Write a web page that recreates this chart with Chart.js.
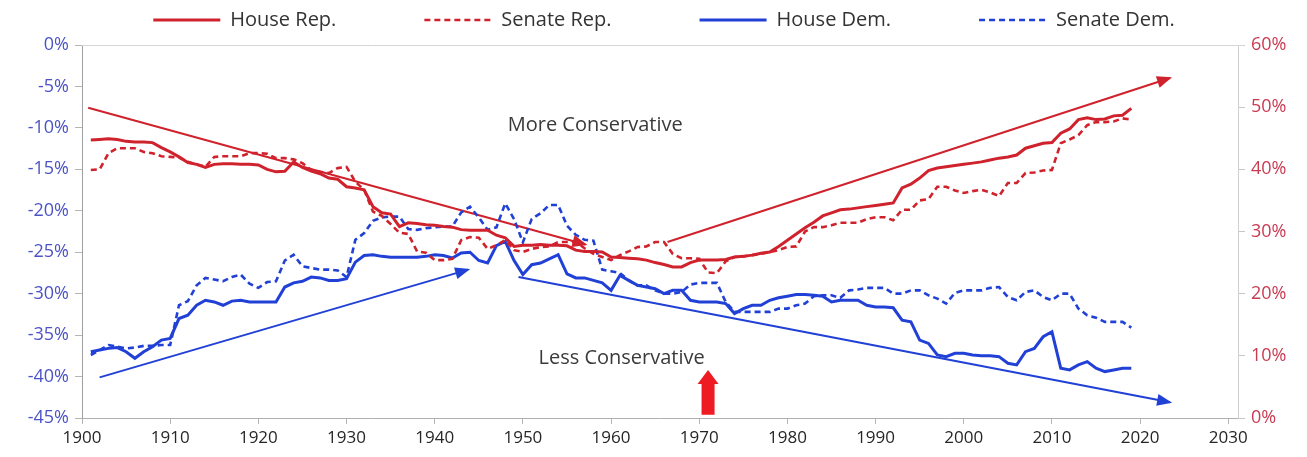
<!DOCTYPE html>
<html>
<head>
<meta charset="utf-8">
<title>Party ideology, House and Senate</title>
<script src="https://cdn.jsdelivr.net/npm/chart.js@4.4.1/dist/chart.umd.min.js"></script>
<style>
  html, body { margin: 0; padding: 0; background: #ffffff; }
  canvas { display: block; }
</style>
</head>
<body>
<canvas id="chart" width="1307" height="457"></canvas>
<script>
// Years covered by the series (one value per year)
const years = [
  1901,1902,1903,1904,1905,1906,1907,1908,1909,1910,
  1911,1912,1913,1914,1915,1916,1917,1918,1919,1920,
  1921,1922,1923,1924,1925,1926,1927,1928,1929,1930,
  1931,1932,1933,1934,1935,1936,1937,1938,1939,1940,
  1941,1942,1943,1944,1945,1946,1947,1948,1949,1950,
  1951,1952,1953,1954,1955,1956,1957,1958,1959,1960,
  1961,1962,1963,1964,1965,1966,1967,1968,1969,1970,
  1971,1972,1973,1974,1975,1976,1977,1978,1979,1980,
  1981,1982,1983,1984,1985,1986,1987,1988,1989,1990,
  1991,1992,1993,1994,1995,1996,1997,1998,1999,2000,
  2001,2002,2003,2004,2005,2006,2007,2008,2009,2010,
  2011,2012,2013,2014,2015,2016,2017,2018,2019
];

// Republicans, right axis (%)
const houseRep = [
  44.7,44.8,44.9,44.8,44.5,44.4,44.4,44.3,43.5,42.8,
  42.0,41.1,40.8,40.3,40.8,40.9,40.9,40.8,40.8,40.7,
  40.0,39.6,39.7,41.2,40.3,39.7,39.3,38.6,38.4,37.2,
  37.0,36.7,34.0,33.0,32.8,30.8,31.4,31.3,31.1,31.0,
  30.8,30.7,30.3,30.2,30.2,30.2,29.4,29.0,27.6,27.8,
  27.8,27.9,27.8,27.8,27.7,27.0,26.8,26.8,26.7,25.9,
  25.8,25.7,25.6,25.4,25.0,24.7,24.3,24.3,25.0,25.4,
  25.4,25.4,25.5,25.9,26.0,26.2,26.5,26.7,27.6,28.6,
  29.6,30.6,31.5,32.5,33.0,33.5,33.6,33.8,34.0,34.2,
  34.4,34.6,37.0,37.6,38.6,39.8,40.2,40.4,40.6,40.8,
  41.0,41.2,41.5,41.8,42.0,42.3,43.4,43.8,44.2,44.3,
  45.8,46.5,48.0,48.3,48.0,48.1,48.6,48.7,49.8
];
const senateRep = [
  39.9,40.0,42.6,43.4,43.4,43.4,42.8,42.6,42.1,42.0,
  41.9,41.2,40.8,40.4,42.0,42.1,42.1,42.1,42.6,42.6,
  42.5,41.8,41.8,41.6,41.0,39.9,39.6,39.4,40.2,40.4,
  38.0,36.7,33.2,32.5,31.2,29.8,29.6,26.8,26.6,25.4,
  25.4,25.6,28.6,29.1,29.0,27.2,27.8,28.6,27.0,26.7,
  27.2,27.5,27.6,28.3,28.3,28.3,27.3,26.4,25.9,25.4,
  26.2,26.8,27.5,27.6,28.3,28.3,26.4,25.7,25.7,25.6,
  23.4,23.3,25.2,25.9,26.0,26.2,26.4,26.7,27.0,27.5,
  27.6,30.0,30.7,30.7,31.0,31.4,31.4,31.4,32.0,32.3,
  32.3,31.8,33.5,33.5,35.0,35.2,37.2,37.2,36.6,36.2,
  36.5,36.7,36.3,35.7,37.8,37.8,39.4,39.5,39.8,39.9,
  44.2,44.8,45.5,47.1,47.6,47.6,47.7,48.2,48.0
];

// Democrats, left axis (%)
const houseDem = [
  -37.0,-36.8,-36.6,-36.5,-37.0,-37.8,-37.0,-36.4,-35.6,-35.4,
  -33.0,-32.6,-31.4,-30.8,-31.0,-31.4,-30.9,-30.8,-31.0,-31.0,
  -31.0,-31.0,-29.2,-28.7,-28.5,-28.0,-28.1,-28.4,-28.4,-28.2,
  -26.2,-25.4,-25.3,-25.5,-25.6,-25.6,-25.6,-25.6,-25.5,-25.3,
  -25.4,-25.7,-25.1,-25.0,-26.0,-26.3,-24.2,-23.7,-26.0,-27.7,
  -26.5,-26.3,-25.8,-25.3,-27.6,-28.1,-28.1,-28.4,-28.7,-29.6,
  -27.8,-28.4,-29.0,-29.2,-29.4,-30.0,-29.6,-29.6,-30.8,-31.0,
  -31.0,-31.0,-31.2,-32.4,-31.8,-31.4,-31.4,-30.8,-30.5,-30.3,
  -30.1,-30.1,-30.2,-30.3,-31.0,-30.8,-30.8,-30.8,-31.4,-31.6,
  -31.6,-31.7,-33.2,-33.4,-35.6,-36.0,-37.4,-37.6,-37.2,-37.2,
  -37.4,-37.5,-37.5,-37.6,-38.4,-38.6,-37.0,-36.6,-35.2,-34.6,
  -39.0,-39.2,-38.6,-38.2,-39.0,-39.4,-39.2,-39.0,-39.0
];
const senateDem = [
  -37.4,-36.8,-36.2,-36.4,-36.6,-36.5,-36.3,-36.3,-36.2,-36.2,
  -31.4,-30.9,-29.0,-28.1,-28.3,-28.5,-28.0,-27.7,-28.8,-29.3,
  -28.6,-28.5,-26.0,-25.3,-26.7,-26.9,-27.1,-27.1,-27.2,-28.0,
  -23.5,-22.7,-21.2,-20.8,-20.7,-20.7,-22.2,-22.3,-22.1,-22.0,
  -21.9,-21.9,-20.2,-19.5,-20.8,-22.3,-22.0,-19.1,-21.0,-23.8,
  -21.0,-20.3,-19.3,-19.3,-21.8,-22.9,-23.5,-23.6,-27.1,-27.3,
  -27.5,-28.4,-29.0,-29.0,-29.6,-30.0,-30.0,-29.8,-28.9,-28.7,
  -28.7,-28.7,-31.0,-32.2,-32.2,-32.2,-32.2,-32.2,-31.8,-31.8,
  -31.4,-31.2,-30.3,-30.2,-30.2,-30.5,-29.6,-29.5,-29.3,-29.3,
  -29.3,-30.0,-30.0,-29.6,-29.6,-30.2,-30.6,-31.2,-29.9,-29.6,
  -29.6,-29.6,-29.3,-29.2,-30.4,-30.8,-29.8,-29.6,-30.4,-30.8,
  -30.0,-30.0,-31.8,-32.6,-32.9,-33.4,-33.4,-33.4,-34.1
];

// Axis ticks
const xTicks = [1900,1910,1920,1930,1940,1950,1960,1970,1980,1990,2000,2010,2020,2030];
const leftTicks = [0,-5,-10,-15,-20,-25,-30,-35,-40,-45];
const rightTicks = [0,10,20,30,40,50,60];

// Trend arrows: [year, value] start and end points
const repTrendDown = [[1900.7, 49.9], [1957.1, 27.9]];   // right axis
const repTrendUp   = [[1966.4, 28.3], [2023.4, 54.7]];   // right axis
const demTrendUp   = [[1902.0, -40.1], [1943.8, -27.1]]; // left axis
const demTrendDown = [[1949.5, -28.0], [2023.4, -43.1]]; // left axis

// Text notes: [year, left-axis value]
const noteMore = [1958.2, -9.7];
const noteLess = [1961.2, -37.8];
// Marker arrow at 1971: base and tip on the left axis
const markerYear = 1971.0;
const markerFrom = -44.6;
const markerTo = -39.2;

const RED = '#d0222c';
const BLUE = '#2140d6';
const FONT = 'Open Sans';

const pts = (vals) => vals.map((v, i) => ({ x: years[i], y: v }));
const seg = (p) => p.map(([x, y]) => ({ x, y }));

const seriesStyle = (label, vals, axis, color, dashed) => ({
  label, data: pts(vals), yAxisID: axis,
  borderColor: color, backgroundColor: color,
  borderWidth: dashed ? 2.6 : 3, borderDash: dashed ? [6, 4] : [],
  pointRadius: 0, tension: 0, fill: false, order: 1
});
const trendStyle = (p, axis, color) => ({
  label: '', data: seg(p), yAxisID: axis, trend: true,
  borderColor: color, borderWidth: 2, pointRadius: 0, tension: 0, fill: false, order: 2
});

const notes = {
  id: 'notes',
  afterDatasetsDraw(chart) {
    const { ctx, chartArea: a, scales } = chart;
    const X = scales.x, L = scales.yL;
    ctx.save();

    // frame along the top
    ctx.strokeStyle = '#d6d6d6';
    ctx.lineWidth = 1;
    ctx.beginPath();
    ctx.moveTo(a.left, a.top + 0.5);
    ctx.lineTo(a.right + 6, a.top + 0.5);
    ctx.stroke();

    // arrowheads at the end of every trend line
    chart.data.datasets.forEach((ds, i) => {
      if (!ds.trend) return;
      const p = chart.getDatasetMeta(i).data;
      const a0 = p[p.length - 2], a1 = p[p.length - 1];
      const ang = Math.atan2(a1.y - a0.y, a1.x - a0.x);
      const len = 13, half = 6;
      ctx.fillStyle = ds.borderColor;
      ctx.beginPath();
      ctx.moveTo(a1.x + Math.cos(ang) * 2, a1.y + Math.sin(ang) * 2);
      ctx.lineTo(a1.x - Math.cos(ang) * len - Math.sin(ang) * half, a1.y - Math.sin(ang) * len + Math.cos(ang) * half);
      ctx.lineTo(a1.x - Math.cos(ang) * len + Math.sin(ang) * half, a1.y - Math.sin(ang) * len - Math.cos(ang) * half);
      ctx.closePath();
      ctx.fill();
    });

    // notes
    ctx.fillStyle = '#3a3a3a';
    ctx.font = `20px "${FONT}"`;
    ctx.textAlign = 'center';
    ctx.textBaseline = 'middle';
    ctx.fillText('More Conservative', X.getPixelForValue(noteMore[0]), L.getPixelForValue(noteMore[1]));
    ctx.fillText('Less Conservative', X.getPixelForValue(noteLess[0]), L.getPixelForValue(noteLess[1]));

    // upward marker arrow
    const mx = X.getPixelForValue(markerYear);
    const yb = L.getPixelForValue(markerFrom), yt = L.getPixelForValue(markerTo);
    const headH = 14, shaft = 6.5, head = 10.5;
    ctx.fillStyle = '#ee1c22';
    ctx.beginPath();
    ctx.moveTo(mx - shaft, yb);
    ctx.lineTo(mx - shaft, yt + headH);
    ctx.lineTo(mx - head, yt + headH);
    ctx.lineTo(mx, yt);
    ctx.lineTo(mx + head, yt + headH);
    ctx.lineTo(mx + shaft, yt + headH);
    ctx.lineTo(mx + shaft, yb);
    ctx.closePath();
    ctx.fill();

    // legend
    const items = chart.data.datasets.filter(d => !d.trend);
    ctx.font = `20px "${FONT}"`;
    ctx.textAlign = 'left';
    const boxW = 67, gapTxt = 10, gapItem = 88;
    const widths = items.map(d => boxW + gapTxt + ctx.measureText(d.label).width);
    const total = widths.reduce((s, w) => s + w, 0) + gapItem * (items.length - 1);
    let x = 664 - total / 2;
    const ly = 20;
    items.forEach((d, i) => {
      ctx.strokeStyle = d.borderColor;
      ctx.lineWidth = d.borderWidth;
      ctx.setLineDash(d.borderDash || []);
      ctx.beginPath();
      ctx.moveTo(x, ly);
      ctx.lineTo(x + boxW, ly);
      ctx.stroke();
      ctx.setLineDash([]);
      ctx.fillStyle = '#333333';
      ctx.fillText(d.label, x + boxW + gapTxt, ly);
      x += widths[i] + gapItem;
    });
    ctx.restore();
  }
};

new Chart(document.getElementById('chart'), {
  type: 'line',
  data: {
    datasets: [
      seriesStyle('House Rep.', houseRep, 'yR', RED, false),
      seriesStyle('Senate Rep.', senateRep, 'yR', RED, true),
      seriesStyle('House Dem.', houseDem, 'yL', BLUE, false),
      seriesStyle('Senate Dem.', senateDem, 'yL', BLUE, true),
      trendStyle(repTrendDown, 'yR', RED),
      trendStyle(repTrendUp, 'yR', RED),
      trendStyle(demTrendUp, 'yL', BLUE),
      trendStyle(demTrendDown, 'yL', BLUE)
    ]
  },
  options: {
    responsive: false,
    animation: false,
    devicePixelRatio: 1,
    layout: { padding: { top: 45, left: 0, right: 0, bottom: 0 } },
    plugins: { legend: { display: false }, tooltip: { enabled: false } },
    scales: {
      x: {
        type: 'linear', min: 1900, max: 2031.1,
        afterBuildTicks: s => { s.ticks = xTicks.map(v => ({ value: v })); },
        ticks: { callback: v => String(v), color: '#262626', font: { family: FONT, size: 17 }, padding: 4, maxRotation: 0 },
        grid: { drawOnChartArea: false, tickLength: 6, color: '#b5b5b5' },
        border: { color: '#b0b0b0' },
        afterFit: s => { s.height = 39; }
      },
      yL: {
        type: 'linear', position: 'left', min: -45, max: 0,
        afterBuildTicks: s => { s.ticks = leftTicks.map(v => ({ value: v })); },
        ticks: { callback: v => v + '%', color: '#4b53c6', font: { family: FONT, size: 18 }, padding: 6 },
        grid: { drawOnChartArea: false, tickLength: 7, color: '#b5b5b5' },
        border: { color: '#a0a0a0' },
        afterFit: s => { s.width = 82; }
      },
      yR: {
        type: 'linear', position: 'right', min: 0, max: 60,
        afterBuildTicks: s => { s.ticks = rightTicks.map(v => ({ value: v })); },
        ticks: { callback: v => v + '%', color: '#c93b52', font: { family: FONT, size: 18 }, padding: 6 },
        grid: { drawOnChartArea: false, tickLength: 7, color: '#c8c8c8' },
        border: { color: '#d0d0d0' },
        afterFit: s => { s.width = 69; }
      }
    }
  },
  plugins: [notes]
});
</script>
</body>
</html>
